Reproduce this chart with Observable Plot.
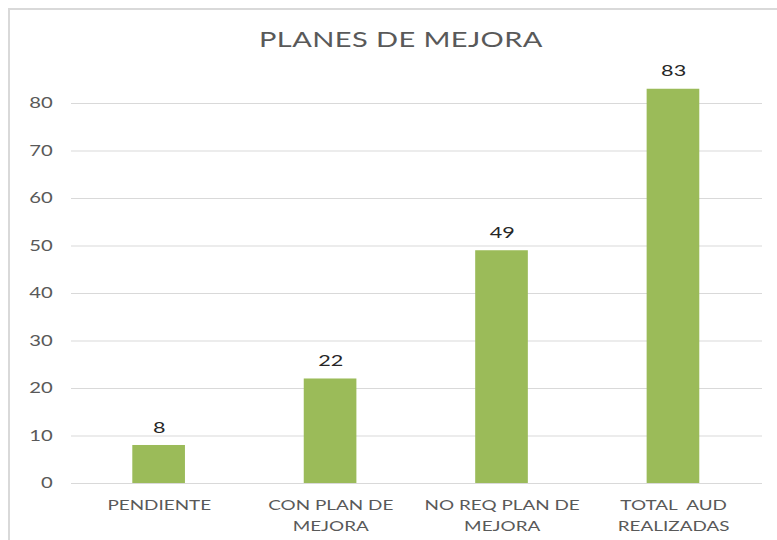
<!DOCTYPE html>
<html>
<head>
<meta charset="utf-8">
<script src="https://cdn.jsdelivr.net/npm/d3@7"></script>
<script src="https://cdn.jsdelivr.net/npm/@observablehq/plot@0.6"></script>
<style>
  body { margin: 0; background: #fff; }
  #wrap { position: relative; width: 777px; height: 540px; overflow: hidden; font-family: Lato, "Open Sans", sans-serif; }
  #frame { position: absolute; left: 8px; top: 8px; width: 820px; height: 600px; border-left: 2px solid #d9d9d9; border-top: 2px solid #d9d9d9; }
  #scaled { position: absolute; left: 0; top: 0; width: 575.56px; height: 540px; transform: scaleX(1.35); transform-origin: 0 0; }
  #title { position: absolute; top: 29px; left: 0; width: 594px; text-align: center; font-size: 21.5px; line-height: 1; color: #595959; font-weight: 400; letter-spacing: 0.3px; }
  #chart { position: absolute; left: 0; top: 0; }
</style>
</head>
<body>
<div id="wrap">
  <div id="frame"></div>
  <div id="scaled">
    <div id="chart"></div>
    <div id="title">PLANES DE MEJORA</div>
  </div>
</div>
<script>
const categories = ["PENDIENTE", "CON PLAN DE MEJORA", "NO REQ PLAN DE MEJORA", "TOTAL  AUD REALIZADAS"];
const tickLabels = ["PENDIENTE", "CON PLAN DE\nMEJORA", "NO REQ PLAN DE\nMEJORA", "TOTAL  AUD\nREALIZADAS"];
const values = [8, 22, 49, 83];
const yTicks = [0, 10, 20, 30, 40, 50, 60, 70, 80];

const S = 1.35; // horizontal stretch of the original picture
const data = categories.map((c, i) => ({ cat: c, value: values[i] }));
const labelOf = new Map(categories.map((c, i) => [c, tickLabels[i]]));

const chart = Plot.plot({
  width: 777 / S,
  height: 540,
  marginLeft: 71 / S,
  marginRight: 15 / S,
  marginTop: 55.5,
  marginBottom: 57,
  style: { fontFamily: "Lato, 'Open Sans', sans-serif", background: "transparent", overflow: "visible" },
  x: { domain: categories, paddingInner: 0.69, paddingOuter: 0.345, label: null },
  y: { domain: [0, 90], label: null },
  marks: [
    Plot.gridY(yTicks, { stroke: "#d9d9d9", strokeOpacity: 1, strokeWidth: 1 }),
    Plot.axisY(yTicks, { tickSize: 0, tickPadding: 14, fontSize: 15, fill: "#595959", label: null }),
    Plot.barY(data, { x: "cat", y: "value", fill: "#9bbb59" }),
    Plot.ruleY([0], { stroke: "#d9d9d9", strokeWidth: 1 }),
    Plot.axisX({ tickSize: 0, tickPadding: 12, fontSize: 14, fill: "#595959", lineHeight: 1.5, tickFormat: d => labelOf.get(d), label: null }),
    Plot.text(data, { x: "cat", y: "value", text: d => String(d.value), dy: -18, fontSize: 16, fill: "#262626" })
  ]
});
document.getElementById("chart").appendChild(chart);
</script>
</body>
</html>
